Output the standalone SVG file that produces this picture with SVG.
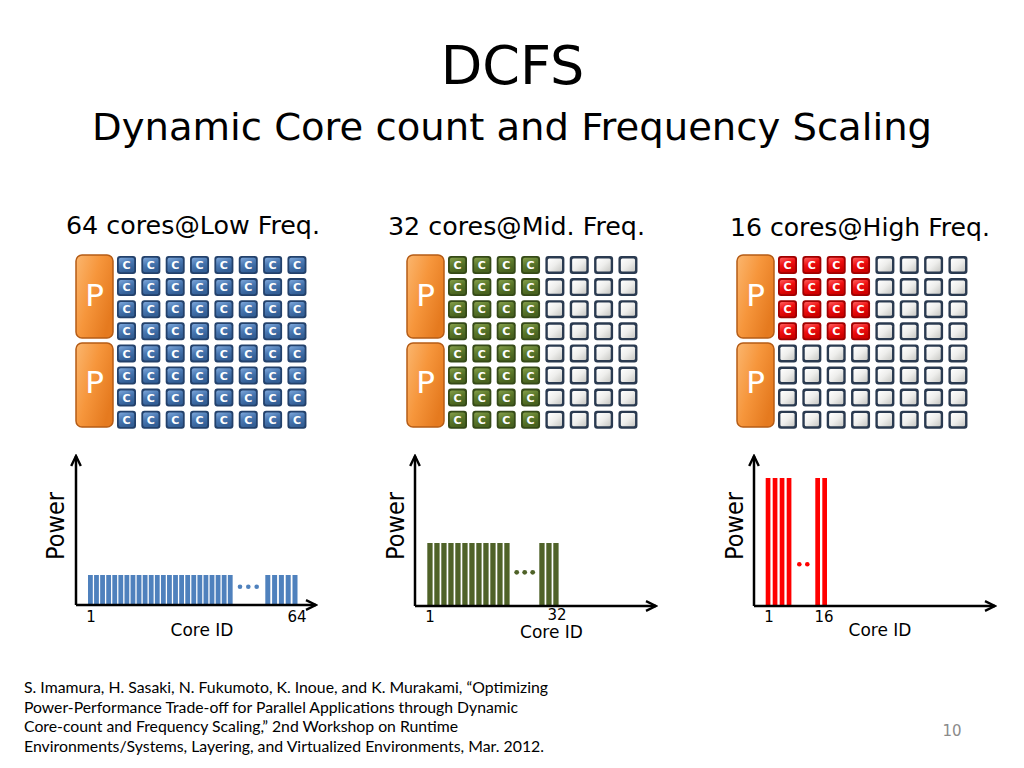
<svg xmlns="http://www.w3.org/2000/svg" width="1024" height="768" viewBox="0 0 1024 768">
<style>
.t{font-family:"DejaVu Sans",Verdana,sans-serif;fill:#000}
.ct{font-family:"DejaVu Sans",Verdana,sans-serif;font-weight:bold;font-size:11px;fill:#fff;text-anchor:middle}
.pt{font-family:"DejaVu Sans",Verdana,sans-serif;font-size:31px;fill:#fff;text-anchor:middle}
.pbox{fill:url(#gP);stroke:#b55c16;stroke-width:1.5}
.ax{stroke:#000;stroke-width:2.5;fill:none;marker-end:url(#arr)}
.fn{font-family:Lato,"Open Sans",sans-serif;font-size:15px;fill:#000}
.num{font-family:"DejaVu Sans",Verdana,sans-serif;font-size:15px;fill:#000;text-anchor:middle}
.cid{font-family:"DejaVu Sans",Verdana,sans-serif;font-size:17px;fill:#000;text-anchor:middle}
.pw{font-family:"DejaVu Sans",Verdana,sans-serif;font-size:25px;fill:#000;text-anchor:middle}
.lab{font-family:"DejaVu Sans",Verdana,sans-serif;font-size:25px;fill:#000}
.bb{fill:#4f81bd}.bg{fill:#4f6228}.br{fill:#ff0000}
</style>
<defs>
<linearGradient id="gP" x1="0" y1="0" x2="1" y2="0.6">
<stop offset="0" stop-color="#fbb66e"/><stop offset="0.5" stop-color="#f6963c"/><stop offset="1" stop-color="#e57a1f"/>
</linearGradient>
<linearGradient id="gB" x1="0" y1="0" x2="0.4" y2="1">
<stop offset="0" stop-color="#7fa9dc"/><stop offset="0.5" stop-color="#4a78b2"/><stop offset="1" stop-color="#335f96"/>
</linearGradient>
<linearGradient id="gG" x1="0" y1="0" x2="0.4" y2="1">
<stop offset="0" stop-color="#86a04c"/><stop offset="0.5" stop-color="#5d7a2c"/><stop offset="1" stop-color="#48621f"/>
</linearGradient>
<linearGradient id="gR" x1="0" y1="0" x2="0.4" y2="1">
<stop offset="0" stop-color="#ff6060"/><stop offset="0.5" stop-color="#f01010"/><stop offset="1" stop-color="#d00000"/>
</linearGradient>
<linearGradient id="gE" x1="0" y1="0" x2="1" y2="1">
<stop offset="0" stop-color="#ffffff"/><stop offset="0.5" stop-color="#eeeeec"/><stop offset="1" stop-color="#c8c8c4"/>
</linearGradient>
<marker id="arr" markerUnits="userSpaceOnUse" markerWidth="14" markerHeight="14" refX="0" refY="0" viewBox="-12 -7 14 14" orient="auto">
<path d="M-10,-4.8 L0,0 L-10,4.8" fill="none" stroke="#000" stroke-width="2.4"/>
</marker>
<g id="cB"><rect x="0" y="0" width="19" height="18" rx="3" fill="#23416b"/><rect x="1.8" y="1.8" width="15.4" height="14.4" rx="2" fill="url(#gB)"/><text x="9.5" y="13.2" class="ct">C</text></g>
<g id="cG"><rect x="0" y="0" width="19" height="18" rx="3" fill="#354a17"/><rect x="1.8" y="1.8" width="15.4" height="14.4" rx="2" fill="url(#gG)"/><text x="9.5" y="13.2" class="ct">C</text></g>
<g id="cR"><rect x="0" y="0" width="19" height="18" rx="3" fill="#a00000"/><rect x="1.8" y="1.8" width="15.4" height="14.4" rx="2" fill="url(#gR)"/><text x="9.5" y="13.2" class="ct">C</text></g>
<g id="cE"><rect x="0" y="0" width="19" height="18" rx="3" fill="#2a3a50"/><rect x="2.4" y="2.4" width="14.2" height="13.2" rx="1.5" fill="url(#gE)"/></g>
<g id="rowB"><use href="#cB" x="0"/><use href="#cB" x="24.35"/><use href="#cB" x="48.7"/><use href="#cB" x="73.05"/><use href="#cB" x="97.4"/><use href="#cB" x="121.75"/><use href="#cB" x="146.1"/><use href="#cB" x="170.45"/></g>
<g id="rowG"><use href="#cG" x="0"/><use href="#cG" x="24.35"/><use href="#cG" x="48.7"/><use href="#cG" x="73.05"/><use href="#cE" x="97.4"/><use href="#cE" x="121.75"/><use href="#cE" x="146.1"/><use href="#cE" x="170.45"/></g>
<g id="rowR"><use href="#cR" x="0"/><use href="#cR" x="24.35"/><use href="#cR" x="48.7"/><use href="#cR" x="73.05"/><use href="#cE" x="97.4"/><use href="#cE" x="121.75"/><use href="#cE" x="146.1"/><use href="#cE" x="170.45"/></g>
<g id="rowE"><use href="#cE" x="0"/><use href="#cE" x="24.35"/><use href="#cE" x="48.7"/><use href="#cE" x="73.05"/><use href="#cE" x="97.4"/><use href="#cE" x="121.75"/><use href="#cE" x="146.1"/><use href="#cE" x="170.45"/></g>
</defs>
<rect width="1024" height="768" fill="#fff"/>

<g id="title">
<text class="t" x="512.5" y="84" font-size="54" text-anchor="middle">DCFS</text>
<text class="t" x="512" y="140" font-size="38" text-anchor="middle" textLength="840" lengthAdjust="spacingAndGlyphs">Dynamic Core count and Frequency Scaling</text>
</g>

<g id="labels">
<text class="lab" x="66" y="234" textLength="254" lengthAdjust="spacingAndGlyphs">64 cores@Low Freq.</text>
<text class="lab" x="388" y="235" textLength="257" lengthAdjust="spacingAndGlyphs">32 cores@Mid. Freq.</text>
<text class="lab" x="730" y="236" textLength="260" lengthAdjust="spacingAndGlyphs">16 cores@High Freq.</text>
</g>

<g id="panel1">
<g id="p1a"><rect class="pbox" x="76" y="255" width="37" height="83" rx="6"/><text class="pt" x="94.5" y="306">P</text></g>
<g id="p1b"><rect class="pbox" x="76" y="343" width="37" height="84" rx="6"/><text class="pt" x="94.5" y="393">P</text></g>
<g id="cores1">
<use href="#rowB" x="117" y="256"/><use href="#rowB" x="117" y="278.1"/><use href="#rowB" x="117" y="300.2"/><use href="#rowB" x="117" y="322.3"/>
<use href="#rowB" x="117" y="344.4"/><use href="#rowB" x="117" y="366.5"/><use href="#rowB" x="117" y="388.6"/><use href="#rowB" x="117" y="410.7"/>
</g>
</g>

<g id="panel2">
<g id="p2a"><rect class="pbox" x="407" y="255" width="37" height="83" rx="6"/><text class="pt" x="425.5" y="306">P</text></g>
<g id="p2b"><rect class="pbox" x="407" y="343" width="37" height="84" rx="6"/><text class="pt" x="425.5" y="393">P</text></g>
<g id="cores2">
<use href="#rowG" x="448" y="256"/><use href="#rowG" x="448" y="278.1"/><use href="#rowG" x="448" y="300.2"/><use href="#rowG" x="448" y="322.3"/>
<use href="#rowG" x="448" y="344.4"/><use href="#rowG" x="448" y="366.5"/><use href="#rowG" x="448" y="388.6"/><use href="#rowG" x="448" y="410.7"/>
</g>
</g>

<g id="panel3">
<g id="p3a"><rect class="pbox" x="737" y="255" width="37" height="83" rx="6"/><text class="pt" x="755.5" y="306">P</text></g>
<g id="p3b"><rect class="pbox" x="737" y="343" width="37" height="84" rx="6"/><text class="pt" x="755.5" y="393">P</text></g>
<g id="cores3">
<use href="#rowR" x="778" y="256"/><use href="#rowR" x="778" y="278.1"/><use href="#rowR" x="778" y="300.2"/><use href="#rowR" x="778" y="322.3"/>
<use href="#rowE" x="778" y="344.4"/><use href="#rowE" x="778" y="366.5"/><use href="#rowE" x="778" y="388.6"/><use href="#rowE" x="778" y="410.7"/>
</g>
</g>

<g id="chart1">
<g class="bb">
<rect x="88" y="575" width="4.8" height="30"/><rect x="94.08" y="575" width="4.8" height="30"/><rect x="100.16" y="575" width="4.8" height="30"/><rect x="106.24" y="575" width="4.8" height="30"/>
<rect x="112.32" y="575" width="4.8" height="30"/><rect x="118.4" y="575" width="4.8" height="30"/><rect x="124.48" y="575" width="4.8" height="30"/><rect x="130.56" y="575" width="4.8" height="30"/>
<rect x="136.64" y="575" width="4.8" height="30"/><rect x="142.72" y="575" width="4.8" height="30"/><rect x="148.8" y="575" width="4.8" height="30"/><rect x="154.88" y="575" width="4.8" height="30"/>
<rect x="160.96" y="575" width="4.8" height="30"/><rect x="167.04" y="575" width="4.8" height="30"/><rect x="173.12" y="575" width="4.8" height="30"/><rect x="179.2" y="575" width="4.8" height="30"/>
<rect x="185.28" y="575" width="4.8" height="30"/><rect x="191.36" y="575" width="4.8" height="30"/><rect x="197.44" y="575" width="4.8" height="30"/><rect x="203.52" y="575" width="4.8" height="30"/>
<rect x="209.6" y="575" width="4.8" height="30"/><rect x="215.68" y="575" width="4.8" height="30"/><rect x="221.76" y="575" width="4.8" height="30"/><rect x="227.84" y="575" width="4.8" height="30"/>
<rect x="265.3" y="575" width="5" height="30"/><rect x="272.1" y="575" width="5" height="30"/><rect x="278.9" y="575" width="5" height="30"/><rect x="285.7" y="575" width="5" height="30"/><rect x="292.5" y="575" width="5" height="30"/>
<circle cx="240" cy="586.7" r="2.3"/><circle cx="248.3" cy="586.7" r="2.3"/><circle cx="256.7" cy="586.7" r="2.3"/>
</g>
<text class="num" x="91" y="622">1</text>
<text class="num" x="297" y="622">64</text>
<text class="cid" x="202" y="636">Core ID</text>
<text class="pw" transform="translate(64,526) rotate(-90)" textLength="68" lengthAdjust="spacingAndGlyphs">Power</text>
</g>

<g id="chart2">
<g class="bg">
<rect x="427.3" y="543" width="5.3" height="63"/><rect x="434.3" y="543" width="5.3" height="63"/><rect x="441.3" y="543" width="5.3" height="63"/><rect x="448.3" y="543" width="5.3" height="63"/>
<rect x="455.3" y="543" width="5.3" height="63"/><rect x="462.3" y="543" width="5.3" height="63"/><rect x="469.3" y="543" width="5.3" height="63"/><rect x="476.3" y="543" width="5.3" height="63"/>
<rect x="483.3" y="543" width="5.3" height="63"/><rect x="490.3" y="543" width="5.3" height="63"/><rect x="497.3" y="543" width="5.3" height="63"/><rect x="504.3" y="543" width="5.3" height="63"/>
<rect x="539.3" y="543" width="5.3" height="63"/><rect x="546.3" y="543" width="5.3" height="63"/><rect x="553.3" y="543" width="5.3" height="63"/>
<circle cx="516.7" cy="572.3" r="2.4"/><circle cx="524.7" cy="572.3" r="2.4"/><circle cx="532.7" cy="572.3" r="2.4"/>
</g>
<text class="num" x="557" y="620">32</text>
<text class="num" x="430" y="622">1</text>
<text class="cid" x="551.5" y="638">Core ID</text>
<text class="pw" transform="translate(404,526) rotate(-90)" textLength="68" lengthAdjust="spacingAndGlyphs">Power</text>
</g>

<g id="chart3">
<g class="br">
<rect x="765.7" y="478" width="4.7" height="128"/><rect x="772.7" y="478" width="4.7" height="128"/><rect x="779.7" y="478" width="4.7" height="128"/><rect x="786.7" y="478" width="4.7" height="128"/>
<rect x="815.3" y="478" width="4.7" height="128"/><rect x="822.3" y="478" width="4.7" height="128"/>
<circle cx="799.3" cy="564.3" r="2.3"/><circle cx="807.3" cy="564.3" r="2.3"/>
</g>
<text class="num" x="769" y="622">1</text>
<text class="num" x="824" y="622">16</text>
<text class="cid" x="880" y="636">Core ID</text>
<text class="pw" transform="translate(743,526) rotate(-90)" textLength="68" lengthAdjust="spacingAndGlyphs">Power</text>
</g>

<g id="axes">
<path class="ax" d="M76,605 V456"/><path class="ax" d="M76,605 H316"/>
<path class="ax" d="M415,606 V456"/><path class="ax" d="M415,606 H656"/>
<path class="ax" d="M754,606 V456"/><path class="ax" d="M754,606 H995"/>
</g>

<g id="footnote">
<text class="fn" x="24" y="693" textLength="524" lengthAdjust="spacingAndGlyphs">S. Imamura, H. Sasaki, N. Fukumoto, K. Inoue, and K. Murakami, “Optimizing</text>
<text class="fn" x="24" y="712.5" textLength="494" lengthAdjust="spacingAndGlyphs">Power-Performance Trade-off for Parallel Applications through Dynamic</text>
<text class="fn" x="24" y="732" textLength="434" lengthAdjust="spacingAndGlyphs">Core-count and Frequency Scaling,” 2nd Workshop on Runtime</text>
<text class="fn" x="24" y="751.5" textLength="520" lengthAdjust="spacingAndGlyphs">Environments/Systems, Layering, and Virtualized Environments, Mar. 2012.</text>
</g>
<text x="952" y="736" font-family="DejaVu Sans, Verdana, sans-serif" font-size="15" fill="#8b8b8b" text-anchor="middle">10</text>
</svg>
